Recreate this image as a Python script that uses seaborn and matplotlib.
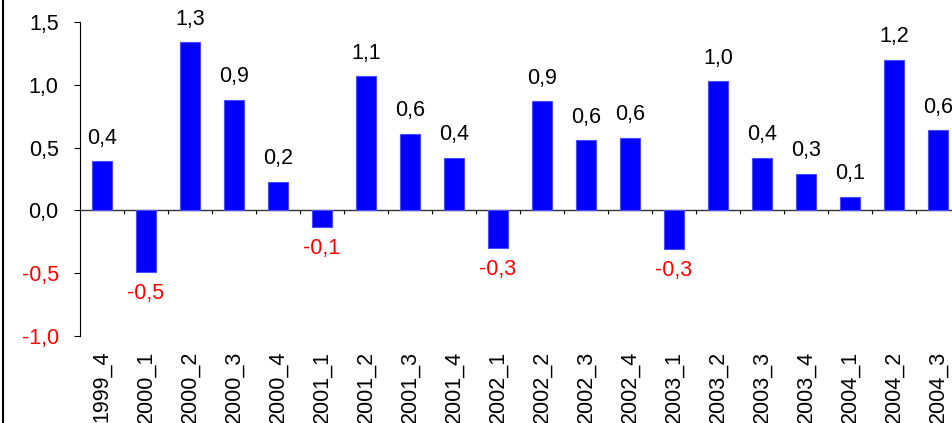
import matplotlib
matplotlib.use("Agg")
import matplotlib.pyplot as plt
from matplotlib.lines import Line2D
import numpy as np
import pandas as pd
import seaborn as sns

# Quarterly change, by quarter
quarters = ["1999_4", "2000_1", "2000_2", "2000_3", "2000_4",
            "2001_1", "2001_2", "2001_3", "2001_4",
            "2002_1", "2002_2", "2002_3", "2002_4",
            "2003_1", "2003_2", "2003_3", "2003_4",
            "2004_1", "2004_2", "2004_3"]
changes = [0.39, -0.49, 1.34, 0.88, 0.23,
           -0.13, 1.07, 0.61, 0.42,
           -0.30, 0.87, 0.56, 0.58,
           -0.31, 1.03, 0.42, 0.29,
           0.11, 1.20, 0.64]
y_ticks = [-1.0, -0.5, 0.0, 0.5, 1.0, 1.5]

sns.set_theme(style="white")
plt.rcParams["font.family"] = ["Liberation Sans", "DejaVu Sans"]

df = pd.DataFrame({"quarter": quarters, "change": changes})

W, H, DPI = 953, 423, 100
FS = 15.5
fig = plt.figure(figsize=(W / DPI, H / DPI), dpi=DPI)
ax = fig.add_axes([80 / W, (H - 336) / H, 880 / W, (336 - 22) / H])

sns.barplot(data=df, x="quarter", y="change", color="#0000FF",
            width=0.45, edgecolor="#4a4aff", linewidth=0.8,
            saturation=1, ax=ax)

ax.set_xlim(-0.5, len(quarters) - 0.5)
ax.set_ylim(-1.0, 1.5)
ax.set_xlabel("")
ax.set_ylabel("")

fmt = lambda v: f"{v:.1f}".replace(".", ",")

# y axis
ax.set_yticks(y_ticks)
ax.set_yticklabels([fmt(v) for v in y_ticks])
for lab, v in zip(ax.get_yticklabels(), y_ticks):
    lab.set_color("red" if v < 0 else "black")
ax.tick_params(axis="y", which="major", left=True, direction="out",
               length=4.3, width=0.8, color="black", pad=11, labelsize=FS)

# x axis labels below the plot area
ax.tick_params(axis="x", which="major", bottom=True, length=0, pad=10.5,
               labelsize=FS, labelcolor="black")
for lab in ax.get_xticklabels():
    lab.set_rotation(90)
    lab.set_ha("center")
    lab.set_va("top")

for side in ["top", "right", "bottom"]:
    ax.spines[side].set_visible(False)
ax.spines["left"].set_color("black")
ax.spines["left"].set_linewidth(0.8)

# zero line with category separator ticks
zero_pos = (0 - (-1.0)) / (1.5 - (-1.0))
sec = ax.secondary_xaxis(zero_pos)
sec.set_xticks(np.arange(0.5, len(quarters) - 0.5, 1.0))
sec.set_xticklabels([])
sec.tick_params(axis="x", direction="out", length=3.2, width=0.8, color="black")
sec.spines["bottom"].set_color("#333333")
sec.spines["bottom"].set_linewidth(1.0)

# value labels
for i, v in enumerate(changes):
    if v >= 0:
        ax.annotate(fmt(v), (i, v), xytext=(0, 9), textcoords="offset points",
                    ha="center", va="bottom", fontsize=FS, color="black")
    else:
        ax.annotate(fmt(v), (i, v), xytext=(0, -8), textcoords="offset points",
                    ha="center", va="top", fontsize=FS, color="red")

# chart area border on the left edge
fig.add_artist(Line2D([3.5 / W, 3.5 / W], [0, 1], transform=fig.transFigure,
                      color="black", linewidth=1.5))

fig.savefig("out.png", dpi=DPI)
